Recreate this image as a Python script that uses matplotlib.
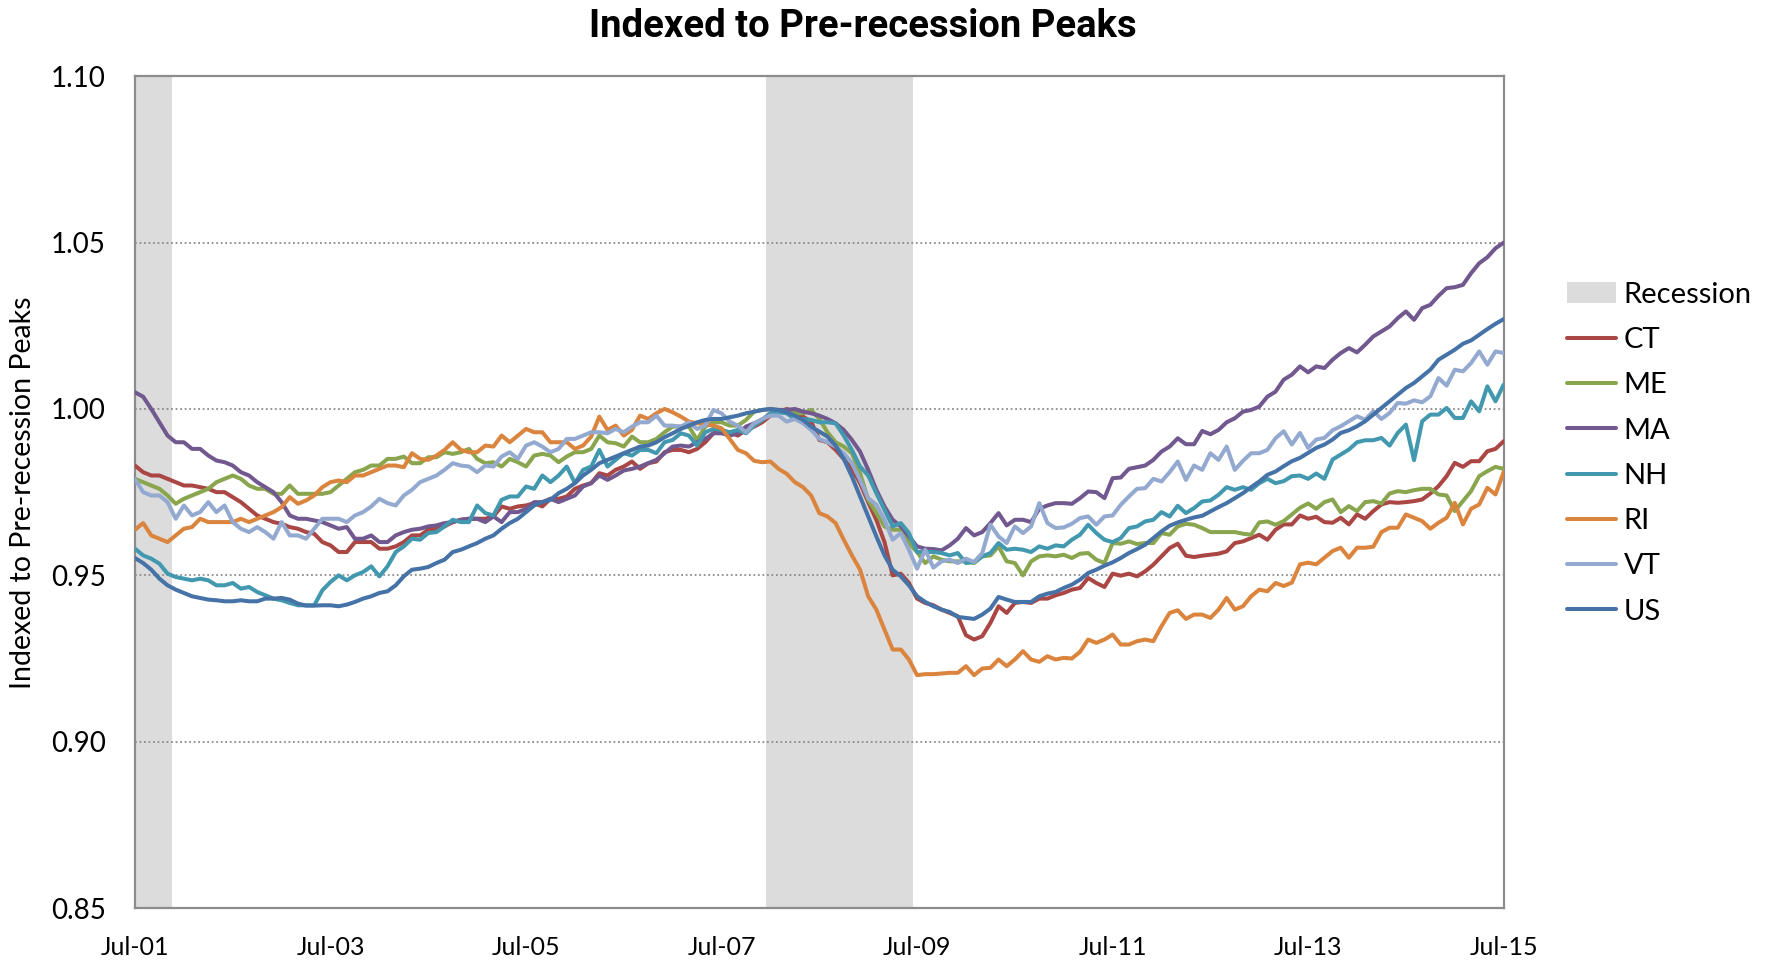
import numpy as np
import pandas as pd
import matplotlib
matplotlib.use("Agg")
import matplotlib.pyplot as plt
from matplotlib.patches import Patch

# monthly index, Jul-2001 .. Jul-2015
months = pd.date_range("2001-07-01", "2015-07-01", freq="MS")
tick_labels = ["Jul-01", "Jul-03", "Jul-05", "Jul-07", "Jul-09", "Jul-11", "Jul-13", "Jul-15"]
recessions = [("2001-07-01", "2001-11-01"), ("2008-01-01", "2009-06-01")]

CT = [0.983, 0.981, 0.980, 0.980, 0.979, 0.978, 0.977, 0.977, 0.9765, 0.976, 0.975, 0.975, 0.9735, 0.972,
      0.970, 0.968, 0.967, 0.966, 0.9655, 0.9645, 0.964, 0.963, 0.9625, 0.960, 0.959, 0.957, 0.957, 0.960,
      0.960, 0.960, 0.958, 0.958, 0.9587, 0.960, 0.962, 0.962, 0.9637, 0.964, 0.9647, 0.966, 0.9667, 0.967,
      0.967, 0.967, 0.9677, 0.9707, 0.970, 0.9707, 0.971, 0.9717, 0.9707, 0.973, 0.973, 0.9737, 0.976, 0.977,
      0.9777, 0.9807,
      0.980, 0.9817, 0.9827, 0.9842, 0.982, 0.9837, 0.9842, 0.987, 0.9877, 0.9877, 0.987, 0.988, 0.990,
      0.9927, 0.993, 0.993, 0.992, 0.9937, 0.9947, 0.996, 0.998, 0.999, 1.000, 0.9992, 0.9977, 0.9962,
      0.9907, 0.990, 0.9877, 0.985, 0.982, 0.9777, 0.972, 0.9667, 0.960, 0.950, 0.9505, 0.9477, 0.943,
      0.9417, 0.941, 0.9397, 0.9387, 0.9377, 0.932, 0.9307, 0.9317, 0.9357, 0.9407, 0.9387, 0.9417, 0.942,
      0.9417, 0.943, 0.943, 0.944,
      0.9447, 0.9457, 0.9462, 0.9492, 0.9477, 0.9465, 0.9505, 0.9499, 0.9505, 0.9497, 0.9512, 0.9532,
      0.9557, 0.9582, 0.9595, 0.9559, 0.9555, 0.9559, 0.9562, 0.9565, 0.9572, 0.9597, 0.9602, 0.9612,
      0.9622, 0.9607, 0.9637,
      0.9653, 0.9653, 0.968, 0.967, 0.9676, 0.966, 0.9658, 0.9673, 0.9653, 0.9683, 0.967, 0.9693, 0.9713,
      0.972, 0.9718, 0.972, 0.9723, 0.9728, 0.9746, 0.9768, 0.9798, 0.9838, 0.9826, 0.9843, 0.9843, 0.9873,
      0.988, 0.9903]

ME = [0.979, 0.978, 0.977, 0.976, 0.974, 0.9715, 0.973, 0.974, 0.975, 0.976, 0.978, 0.979, 0.980, 0.979,
      0.977, 0.976, 0.976, 0.9745, 0.9745, 0.977, 0.9745, 0.9745, 0.9745, 0.9745, 0.975, 0.977, 0.979, 0.981,
      0.9817, 0.983, 0.983, 0.985, 0.985, 0.9857, 0.9837, 0.9837, 0.9855, 0.9855, 0.987, 0.9865, 0.987,
      0.988, 0.985, 0.9837, 0.984, 0.9827, 0.985, 0.984, 0.9827, 0.986, 0.9865, 0.986, 0.984, 0.9857, 0.987,
      0.987, 0.988, 0.992,
      0.990, 0.9897, 0.9887, 0.9917, 0.990, 0.990, 0.991, 0.993, 0.9947, 0.9947, 0.9947, 0.9907, 0.9947,
      0.996, 0.996, 0.995, 0.995, 0.9967, 0.9992, 0.9997, 1.000, 0.9997, 0.9997, 0.9987, 0.9987, 0.9997,
      0.997, 0.993, 0.990, 0.9887, 0.9867, 0.9807, 0.9727, 0.9687, 0.9647, 0.9637, 0.9637, 0.9597, 0.957,
      0.9537, 0.9557, 0.9547, 0.9542, 0.9542, 0.9542, 0.9537, 0.9557, 0.956, 0.9587, 0.9542, 0.9537, 0.950,
      0.9542, 0.9557, 0.956, 0.9557,
      0.9562, 0.9552, 0.9565, 0.9567, 0.9547, 0.9537, 0.9597, 0.9595, 0.9602, 0.9594, 0.9597, 0.9597,
      0.9627, 0.9622, 0.9647, 0.9655, 0.9652, 0.9642, 0.963, 0.963, 0.963, 0.963, 0.9625, 0.9622, 0.9659,
      0.9662, 0.9652,
      0.9663, 0.9683, 0.9703, 0.9716, 0.970, 0.972, 0.9728, 0.969, 0.9708, 0.9693, 0.972, 0.9723, 0.9716,
      0.9746, 0.9753, 0.975, 0.9756, 0.976, 0.976, 0.9743, 0.974, 0.9693, 0.9723, 0.9753, 0.9798, 0.9813,
      0.9826, 0.982]

MA = [1.005, 1.0037, 1.000, 0.996, 0.992, 0.990, 0.990, 0.988, 0.988, 0.986, 0.9845, 0.984, 0.983, 0.981,
      0.980, 0.978, 0.9765, 0.975, 0.972, 0.968, 0.967, 0.967, 0.9665, 0.966, 0.965, 0.964, 0.9645, 0.961,
      0.961, 0.962, 0.960, 0.960, 0.962, 0.963, 0.9637, 0.964, 0.9647, 0.965, 0.9657, 0.966, 0.9667, 0.967,
      0.967, 0.966, 0.9677, 0.966, 0.969, 0.969, 0.970, 0.972, 0.972, 0.973, 0.972, 0.973, 0.974, 0.9767,
      0.9777, 0.980,
      0.9787, 0.980, 0.9815, 0.982, 0.9827, 0.9837, 0.9847, 0.9867, 0.9887, 0.989, 0.9887, 0.990, 0.991,
      0.9927, 0.9927, 0.992, 0.9927, 0.9947, 0.9957, 0.9967, 0.9987, 0.9997, 0.9997, 1.000, 0.9992, 0.9987,
      0.998, 0.997, 0.9957, 0.9937, 0.9907, 0.9872, 0.9817, 0.9757, 0.9707, 0.9667, 0.9647, 0.9617, 0.9587,
      0.958, 0.9579, 0.9575, 0.959, 0.961, 0.9642, 0.962, 0.963, 0.9657, 0.9687, 0.965, 0.9667, 0.9667,
      0.966, 0.970, 0.971, 0.9717,
      0.9717, 0.9715, 0.9732, 0.9752, 0.975, 0.9732, 0.9792, 0.9794, 0.982, 0.9825, 0.983, 0.9847, 0.9872,
      0.9887, 0.9912, 0.9894, 0.9894, 0.9934, 0.9924, 0.9937, 0.996, 0.9972, 0.9992, 0.9997, 1.0007,
      1.0037, 1.0052,
      1.0088, 1.0103, 1.0128, 1.011, 1.0128, 1.0123, 1.0148, 1.0168, 1.0183, 1.017, 1.0193, 1.0218, 1.0233,
      1.0248, 1.0273, 1.0293, 1.0268, 1.0303, 1.0313, 1.034, 1.0363, 1.0366, 1.0373, 1.0408, 1.0438,
      1.0456, 1.0483, 1.050]

NH = [0.958, 0.956, 0.955, 0.9535, 0.9505, 0.9495, 0.949, 0.9485, 0.949, 0.9485, 0.947, 0.947, 0.9477,
      0.946, 0.9465, 0.945, 0.944, 0.943, 0.9425, 0.9417, 0.941, 0.941, 0.941, 0.9455, 0.948, 0.950, 0.9485,
      0.950,
      0.951, 0.9527, 0.9497, 0.9527, 0.957, 0.9587, 0.961, 0.9607, 0.9627, 0.963, 0.9647, 0.9667, 0.966,
      0.966, 0.971, 0.9687, 0.968, 0.9727, 0.9737, 0.9737, 0.9767, 0.976, 0.980, 0.978, 0.980, 0.9827,
      0.9777, 0.9817, 0.9827, 0.9877,
      0.9827, 0.9847, 0.9867, 0.986, 0.9877, 0.9877, 0.9867, 0.990, 0.9907, 0.9927, 0.992, 0.989, 0.993,
      0.994, 0.9937, 0.993, 0.9937, 0.9927, 0.995, 0.9967, 0.9987, 0.999, 0.9987, 0.997, 0.997, 0.9967,
      0.996, 0.996, 0.9957, 0.992, 0.9877, 0.9827, 0.980, 0.9747, 0.9697, 0.9647, 0.9657, 0.9627, 0.957,
      0.957, 0.957, 0.9567, 0.956, 0.9567, 0.9537, 0.954, 0.9557, 0.9567, 0.9597, 0.9577, 0.958, 0.9577,
      0.957, 0.9587, 0.958, 0.959,
      0.9587, 0.9607, 0.9622, 0.9652, 0.9627, 0.9607, 0.960, 0.9612, 0.9642, 0.9647, 0.9662, 0.9667, 0.969,
      0.9677, 0.9709, 0.9687, 0.9702, 0.9722, 0.9725, 0.9742, 0.9765, 0.9757, 0.9765, 0.9757, 0.9777,
      0.979, 0.9777,
      0.9783, 0.9798, 0.980, 0.979, 0.9806, 0.979, 0.9848, 0.9863, 0.9878, 0.990, 0.9906, 0.9906, 0.9913,
      0.989, 0.9928, 0.9953, 0.9846, 0.9963, 0.9983, 0.9983, 1.0003, 0.9973, 0.9973, 1.0023, 0.9993,
      1.0068, 1.0023, 1.0073]

RI = [0.9637, 0.9657, 0.962, 0.961, 0.960, 0.962, 0.964, 0.9645, 0.967, 0.966, 0.966, 0.966, 0.966, 0.967,
      0.966, 0.967, 0.968, 0.969, 0.9705, 0.9735, 0.9715, 0.9725, 0.974, 0.9765, 0.978, 0.9785, 0.978, 0.980,
      0.980, 0.981, 0.982, 0.983, 0.983, 0.9825, 0.9867, 0.985, 0.9847, 0.986, 0.9877, 0.990, 0.9877, 0.987,
      0.987, 0.989, 0.9887, 0.992, 0.990, 0.992, 0.994, 0.993, 0.993, 0.990, 0.990, 0.990, 0.988, 0.989,
      0.9917, 0.9977,
      0.9937, 0.995, 0.992, 0.9937, 0.998, 0.997, 0.9987, 1.000, 0.999, 0.9977, 0.9962, 0.9957, 0.9954,
      0.995, 0.9942, 0.991, 0.9877, 0.9867, 0.9844, 0.984, 0.9842, 0.982, 0.9805, 0.978, 0.9765, 0.974,
      0.9687, 0.9677, 0.9657, 0.9607, 0.956, 0.9517, 0.9437, 0.9397, 0.9337, 0.9277, 0.9277, 0.9247, 0.920,
      0.9203, 0.9203, 0.9205, 0.9207, 0.9207, 0.9227, 0.920, 0.922, 0.9222, 0.9247, 0.9227, 0.9247, 0.9272,
      0.9247, 0.924, 0.9257, 0.9247,
      0.9252, 0.925, 0.927, 0.9307, 0.9297, 0.9307, 0.9322, 0.9292, 0.9292, 0.9302, 0.9307, 0.9302, 0.9347,
      0.9387, 0.9395, 0.9369, 0.9382, 0.9382, 0.9372, 0.9397, 0.9432, 0.9397, 0.9407, 0.9437, 0.9457,
      0.9452, 0.9477,
      0.9468, 0.9478, 0.9533, 0.9538, 0.9533, 0.9553, 0.9573, 0.9583, 0.9553, 0.9583, 0.9583, 0.9586, 0.963,
      0.9643, 0.9643, 0.9683, 0.9673, 0.9663, 0.964, 0.9658, 0.9673, 0.9718, 0.9653, 0.970, 0.9713, 0.9763,
      0.9743, 0.981]

VT = [0.979, 0.975, 0.974, 0.974, 0.972, 0.967, 0.971, 0.968, 0.969, 0.972, 0.969, 0.971, 0.966, 0.964,
      0.963, 0.9645, 0.963, 0.961, 0.966, 0.962, 0.962, 0.961, 0.964, 0.967, 0.967, 0.967, 0.966, 0.968,
      0.969, 0.9707, 0.973, 0.9717, 0.971, 0.974, 0.9757, 0.978, 0.979, 0.980, 0.9817, 0.9837, 0.983,
      0.9827, 0.981, 0.983, 0.9827, 0.9857, 0.987, 0.985, 0.989, 0.990, 0.9887, 0.987, 0.988, 0.991, 0.991,
      0.992, 0.993, 0.993,
      0.9927, 0.994, 0.993, 0.9947, 0.996, 0.996, 0.998, 0.995, 0.995, 0.9947, 0.996, 0.994, 0.995, 0.9997,
      0.9987, 0.9962, 0.995, 0.993, 0.9957, 0.997, 0.998, 0.998, 0.9962, 0.997, 0.9957, 0.9937,
      0.991, 0.990, 0.9887, 0.9867, 0.9837, 0.9787, 0.9732, 0.9712, 0.9667, 0.9607, 0.9627, 0.9577, 0.952,
      0.9577, 0.9523, 0.9542, 0.9547, 0.9537, 0.955, 0.954, 0.9567, 0.9652, 0.9617, 0.9597, 0.9647, 0.9627,
      0.9647, 0.9717, 0.9657, 0.9642,
      0.9644, 0.9655, 0.9672, 0.9677, 0.9652, 0.9677, 0.968, 0.9712, 0.9737, 0.976, 0.9762, 0.979, 0.9782,
      0.981, 0.9842, 0.9787, 0.983, 0.9817, 0.9867, 0.9847, 0.9887, 0.9817, 0.9844, 0.9867, 0.9867, 0.9877,
      0.9912,
      0.9933, 0.9893, 0.9928, 0.9883, 0.9908, 0.9913, 0.9936, 0.9948, 0.9963, 0.9978, 0.9968, 0.9993, 0.997,
      0.9988, 1.0018, 1.0016, 1.0026, 1.002, 1.0038, 1.0093, 1.007, 1.0118, 1.0113, 1.0138, 1.0173, 1.0133,
      1.0173, 1.0168]

US = [0.9552, 0.9537, 0.9517, 0.949, 0.947, 0.9457, 0.9447, 0.9437, 0.9432, 0.9427, 0.9425, 0.9422,
      0.9422, 0.9425, 0.9422, 0.9422, 0.943, 0.943, 0.9432, 0.9427, 0.9415, 0.9409, 0.9409, 0.941, 0.941,
      0.9407, 0.9412, 0.942,
      0.943, 0.9437, 0.9447, 0.9452, 0.947, 0.9497, 0.9517, 0.952, 0.9525, 0.9537, 0.9547, 0.957, 0.9577,
      0.9587, 0.9597, 0.961, 0.962, 0.964, 0.9657, 0.967, 0.969, 0.971, 0.972, 0.9727, 0.9747, 0.976,
      0.9777, 0.980, 0.9817, 0.9837,
      0.9847, 0.9857, 0.9867, 0.9877, 0.9887, 0.989, 0.990, 0.9915, 0.9927, 0.994, 0.995, 0.996, 0.9967,
      0.997, 0.997, 0.9975, 0.998, 0.9987, 0.9992, 0.9997, 1.000, 0.9997, 0.999, 0.998, 0.9967, 0.9947,
      0.9932, 0.9917, 0.989, 0.985, 0.9797, 0.9737, 0.9677, 0.9617, 0.956, 0.9517, 0.9497, 0.947, 0.9437,
      0.942, 0.9407, 0.9397, 0.939, 0.9375, 0.9372, 0.9369, 0.9382, 0.940, 0.9435, 0.9427, 0.942, 0.942,
      0.942, 0.9437, 0.9445, 0.945,
      0.9462, 0.9472, 0.9487, 0.9507, 0.9517, 0.9529, 0.9539, 0.9552, 0.9567, 0.9579, 0.9592, 0.9612,
      0.9632, 0.9649, 0.9659, 0.9667, 0.9674, 0.9679, 0.9692, 0.9705, 0.9717, 0.9732, 0.9747, 0.9765,
      0.9782, 0.9802, 0.9812,
      0.9828, 0.9843, 0.9853, 0.9868, 0.9883, 0.9893, 0.9908, 0.9928, 0.9936, 0.9948, 0.9963, 0.9983,
      1.0003, 1.0023, 1.0043, 1.0063, 1.0078, 1.0098, 1.0118, 1.0148, 1.0163, 1.0178, 1.0196, 1.0206,
      1.0223, 1.024, 1.0256, 1.027]

series = {"CT": CT, "ME": ME, "MA": MA, "NH": NH, "RI": RI, "VT": VT, "US": US}
colors = {"CT": "#AA4643", "ME": "#89A54E", "MA": "#71588F", "NH": "#4198AF",
          "RI": "#DB843D", "VT": "#93A9CF", "US": "#4572A7"}
rec_color = "#DCDCDC"

lens = {k: len(v) for k, v in series.items()}
assert all(n == len(months) for n in lens.values()), lens

x = np.arange(len(months))
tick_pos = [months.get_loc(pd.Timestamp(f"20{t[-2:]}-07-01")) for t in tick_labels]

fig = plt.figure(figsize=(17.69, 9.65), dpi=100)
ax = fig.add_axes([0.0763, 0.059, 0.7737, 0.862])

for start, end in recessions:
    i0 = months.get_loc(pd.Timestamp(start))
    i1 = months.get_loc(pd.Timestamp(end))
    ax.axvspan(i0 - 0.5, i1 + 0.5, color=rec_color, lw=0, zorder=0)

for name, vals in series.items():
    ax.plot(x, vals, color=colors[name], lw=2.9, solid_capstyle="round", zorder=3)

ax.set_xlim(0, len(months) - 1)
ax.set_ylim(0.85, 1.10)
ax.set_yticks(np.arange(0.85, 1.1001, 0.05))
ax.yaxis.set_major_formatter(plt.FormatStrFormatter("%.2f"))
ax.set_xticks(tick_pos)
ax.set_xticklabels(tick_labels)

tick_font = ["Lato", "DejaVu Sans"]
for lab in ax.get_xticklabels():
    lab.set_family(tick_font)
    lab.set_fontsize(18)
for lab in ax.get_yticklabels():
    lab.set_family(tick_font)
    lab.set_fontsize(20)
ax.tick_params(axis="both", length=0)
ax.tick_params(axis="y", pad=21)
ax.tick_params(axis="x", pad=20)

for yv in [0.90, 0.95, 1.00, 1.05]:
    ax.axhline(yv, color="#8c8c8c", lw=1.3, ls=(0, (1, 1.5)), zorder=1)

for sp in ax.spines.values():
    sp.set_color("#8c8c8c")
    sp.set_linewidth(1.6)

fig.text(0.488, 0.973, "Indexed to Pre-recession Peaks", ha="center", va="center",
         fontsize=27.5, fontweight="bold", family=["Roboto", "DejaVu Sans"])
fig.text(0.0128, 0.489, "Indexed to Pre-recession Peaks", rotation=90, ha="center", va="center",
         fontsize=20.5, family=["Lato", "DejaVu Sans"])

handles = [Patch(facecolor=rec_color, edgecolor="none", label="Recession")]
for name in series:
    handles.append(plt.Line2D([], [], color=colors[name], lw=2.9, solid_capstyle="round", label=name))
fig.legend(handles=handles, loc="upper left", bbox_to_anchor=(0.879, 0.72), frameon=False,
           prop={"family": ["Lato", "DejaVu Sans"], "size": 21}, handlelength=1.7,
           handletextpad=0.25, labelspacing=0.66, borderaxespad=0)

fig.savefig("out.png", dpi=100)
